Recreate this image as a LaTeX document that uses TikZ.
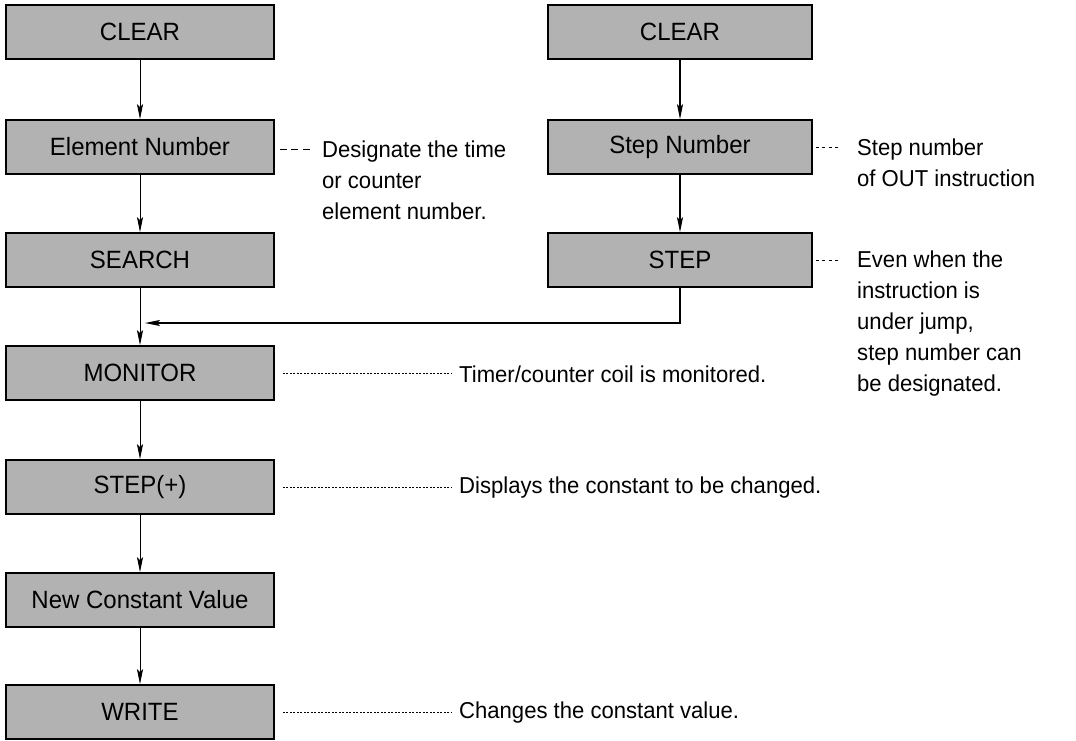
\documentclass[tikz,border=0pt]{standalone}
\usepackage{fontspec}
\setmainfont{Liberation Sans}[FakeStretch=0.96]
\usetikzlibrary{arrows.meta}
\begin{document}
\begin{tikzpicture}[x=1pt,y=-1pt,
  box/.style={draw=black, line width=1.6pt, fill=black!30,
    minimum width=268pt, minimum height=54pt, inner sep=0pt,
    font=\fontsize{25}{29}\selectfont},
  rbox/.style={box, minimum width=264pt},
  flow/.style={line width=0.9pt, -{Stealth[length=15pt,width=6pt,inset=3pt]}},
  rflow/.style={flow, line width=1.4pt},
  note/.style={inner sep=0pt, align=left, anchor=north west,
    font=\fontsize{23}{31}\selectfont},
  shortdash/.style={line width=0.8pt, dash pattern=on 7pt off 4.5pt},
  shortdot/.style={line width=0.8pt, dash pattern=on 3pt off 3.5pt},
  longdot/.style={line width=0.8pt, dash pattern=on 2pt off 1.5pt}
]
\useasboundingbox (0,0) rectangle (1076,740);

% left column
\node[box] (clearL)  at (140,32)  {CLEAR};
\node[box] (elem)    at (140,147) {Element Number};
\node[box] (search)  at (140,260) {SEARCH};
\node[box] (monitor) at (140,373) {MONITOR};
\node[box] (stepp)   at (140,487) {STEP(+)};
\node[box] (newval)  at (140,600) {New Constant Value};
\node[box] (write)   at (140,712) {WRITE};

% right column
\node[rbox] (clearR)  at (680,32)  {CLEAR};
\node[rbox] (stepnum) at (680,147) {Step Number};
\node[rbox] (stepR)   at (680,260) {STEP};

% flow connectors
\draw[flow] (clearL) -- (elem);
\draw[flow] (elem) -- (search);
\draw[flow] (search) -- (monitor);
\draw[flow] (monitor) -- (stepp);
\draw[flow] (stepp) -- (newval);
\draw[flow] (newval) -- (write);
\draw[rflow] (clearR) -- (stepnum);
\draw[rflow] (stepnum) -- (stepR);
\coordinate (join) at (145,323);
\draw[rflow] (stepR.south) |- (join);

% annotations
\node[note] (tElem) at (322,141) {Designate the time\\or counter\\element number.};
\node[note] (tStepNum) at (857,139) {Step number\\of OUT instruction};
\node[note] (tStep) at (857,251) {Even when the\\instruction is\\under jump,\\step number can\\be designated.};
\node[note, anchor=west] (tMon)   at (459,374) {Timer/counter coil is monitored.};
\node[note, anchor=west] (tStepp) at (459,488) {Displays the constant to be changed.};
\node[note, anchor=west] (tWrite) at (459,713) {Changes the constant value.};

% leader lines
\draw[shortdash] ([xshift=5pt,yshift=-2pt]elem.east) -- ([xshift=-10pt,yshift=-2pt]elem.east -| tElem.west);
\draw[shortdot] ([xshift=3pt]stepnum.east) -- ([xshift=-19pt]stepnum.east -| tStepNum.west);
\draw[shortdot] ([xshift=3pt]stepR.east) -- ([xshift=-19pt]stepR.east -| tStep.west);
\draw[longdot] ([xshift=8pt]monitor.east) -- ([xshift=-8pt]monitor.east -| tMon.west);
\draw[longdot] ([xshift=8pt]stepp.east) -- ([xshift=-8pt]stepp.east -| tStepp.west);
\draw[longdot] ([xshift=8pt]write.east) -- ([xshift=-8pt]write.east -| tWrite.west);
\end{tikzpicture}
\end{document}
